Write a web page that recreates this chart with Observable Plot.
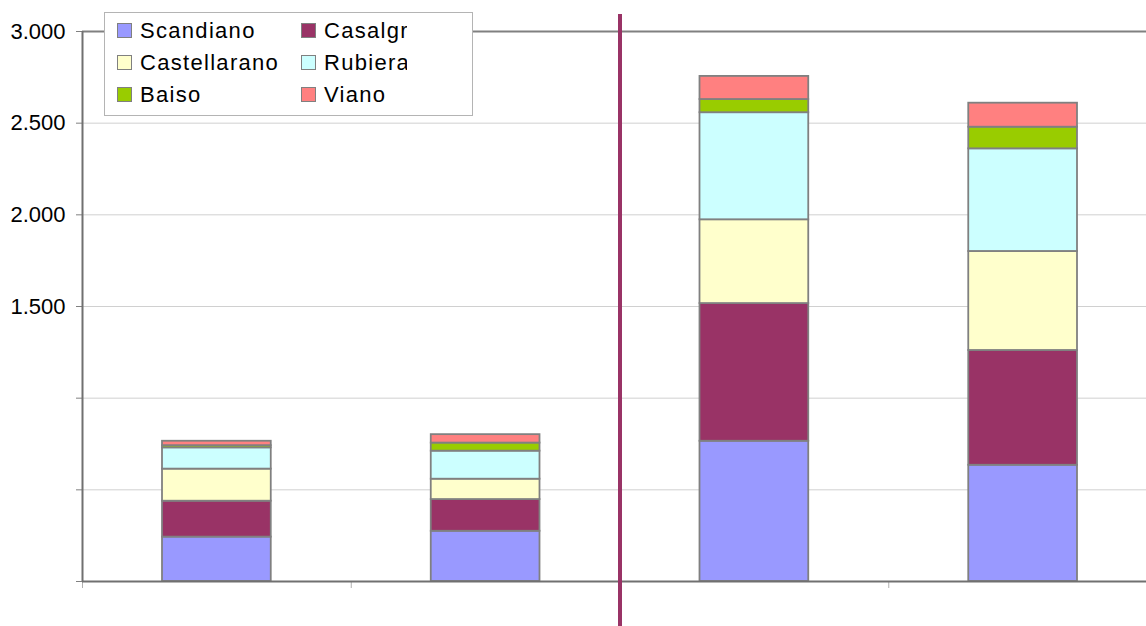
<!DOCTYPE html>
<html>
<head>
<meta charset="utf-8">
<script src="https://cdn.jsdelivr.net/npm/d3@7"></script>
<script src="https://cdn.jsdelivr.net/npm/@observablehq/plot@0.6"></script>
<style>
  html, body { margin: 0; padding: 0; background: #fff; overflow: hidden; }
  #wrap { position: relative; width: 1146px; height: 626px; overflow: hidden; font-family: "Liberation Sans", Arial, sans-serif; }
  #chart { width: 1157px; }
  #chart svg { display: block; max-width: none !important; }
  #legend { position: absolute; left: 104px; top: 12px; width: 367px; height: 102px; border: 1px solid #b4b4b4; background: #fff; }
  .item { position: absolute; height: 26px; font-size: 22px; letter-spacing: 1.3px; color: #000; line-height: 26px; white-space: nowrap; overflow: hidden; }
  .sw { position: absolute; left: 0; top: 5px; width: 13px; height: 13px; border: 1.5px solid #808080; }
  .lbl { position: absolute; left: 23px; top: 0; }
</style>
</head>
<body>
<div id="wrap">
  <div id="chart"></div>
  <div id="legend"></div>
</div>
<script>
// ---- data ----
const periods = ["Periodo 1", "Periodo 2", "Periodo 3", "Periodo 4"];
const cities = ["Scandiano", "Casalgrande", "Castellarano", "Rubiera", "Baiso", "Viano"];
const colors = ["#9999FF", "#993366", "#FFFFCC", "#CCFFFF", "#99CC00", "#FF8080"];
const scandiano    = [242, 274, 765, 634];
const casalgrande  = [196, 173, 751, 626];
const castellarano = [175, 111, 457, 540];
const rubiera      = [116, 153, 584, 560];
const baiso        = [12, 44, 72, 118];
const viano        = [24, 46, 126, 131];
const yTicks = [0, 500, 1000, 1500, 2000, 2500, 3000];
const legendLabels = ["Scandiano", "Casalgrande", "Castellarano", "Rubiera", "Baiso", "Viano"];

const series = [scandiano, casalgrande, castellarano, rubiera, baiso, viano];
const data = [];
cities.forEach((c, ci) => periods.forEach((p, pi) => data.push({city: c, period: p, idx: pi, value: series[ci][pi]})));
const separatorIndex = periods.indexOf("Periodo 3");
const xTicks = d3.range(periods.length + 1);

const loc = d3.formatLocale({decimal: ",", thousands: ".", grouping: [3], currency: ["", "€"]});
const fmt = loc.format(",d");

const chart = Plot.plot({
  width: 1157,
  height: 626,
  marginLeft: 82,
  marginRight: 0,
  marginTop: 31,
  marginBottom: 45,
  style: {fontFamily: "Liberation Sans, Arial, sans-serif", background: "transparent", maxWidth: "none"},
  x: {domain: [0, periods.length], axis: null, label: null},
  y: {domain: [0, 3000], axis: null, label: null},
  color: {domain: cities, range: colors},
  marks: [
    Plot.gridY(yTicks, {stroke: "#d0d0d0", strokeOpacity: 1, strokeWidth: 1}),
    Plot.ruleY([3000], {stroke: "#808080", strokeWidth: 2}),
    Plot.rectY(data, {
      x1: "idx", x2: d => d.idx + 1, y: "value", fill: "city",
      stroke: "#808080", strokeWidth: 1.8, insetLeft: 80, insetRight: 80
    }),
    Plot.axisY({
      ticks: yTicks, tickSize: 6, tickPadding: 11, fontSize: 22, label: null,
      tickFormat: v => v >= 1500 ? fmt(v) : "",
      stroke: "#808080", color: "#000"
    }),
    Plot.axisX({ticks: xTicks, tickFormat: () => "", tickSize: 7, stroke: "#b0b0b0", label: null}),
    Plot.ruleY([0], {stroke: "#707070", strokeWidth: 2}),
    Plot.ruleX([0], {stroke: "#707070", strokeWidth: 2}),
    Plot.ruleX([separatorIndex], {stroke: "#993366", strokeWidth: 4, insetTop: -17, insetBottom: -45})
  ]
});
document.getElementById("chart").appendChild(chart);

// ---- legend ----
const legend = document.getElementById("legend");
const colLeft = [12, 196];
const colWidth = [200, 106];
const rowTop = [5, 37, 69];
legendLabels.forEach((name, i) => {
  const col = i % 2, row = Math.floor(i / 2);
  const it = document.createElement("div");
  it.className = "item";
  it.style.left = colLeft[col] + "px";
  it.style.top = rowTop[row] + "px";
  it.style.width = colWidth[col] + "px";
  const sw = document.createElement("div");
  sw.className = "sw";
  sw.style.background = colors[i];
  const lb = document.createElement("span");
  lb.className = "lbl";
  lb.textContent = name;
  it.appendChild(sw);
  it.appendChild(lb);
  legend.appendChild(it);
});
</script>
</body>
</html>
